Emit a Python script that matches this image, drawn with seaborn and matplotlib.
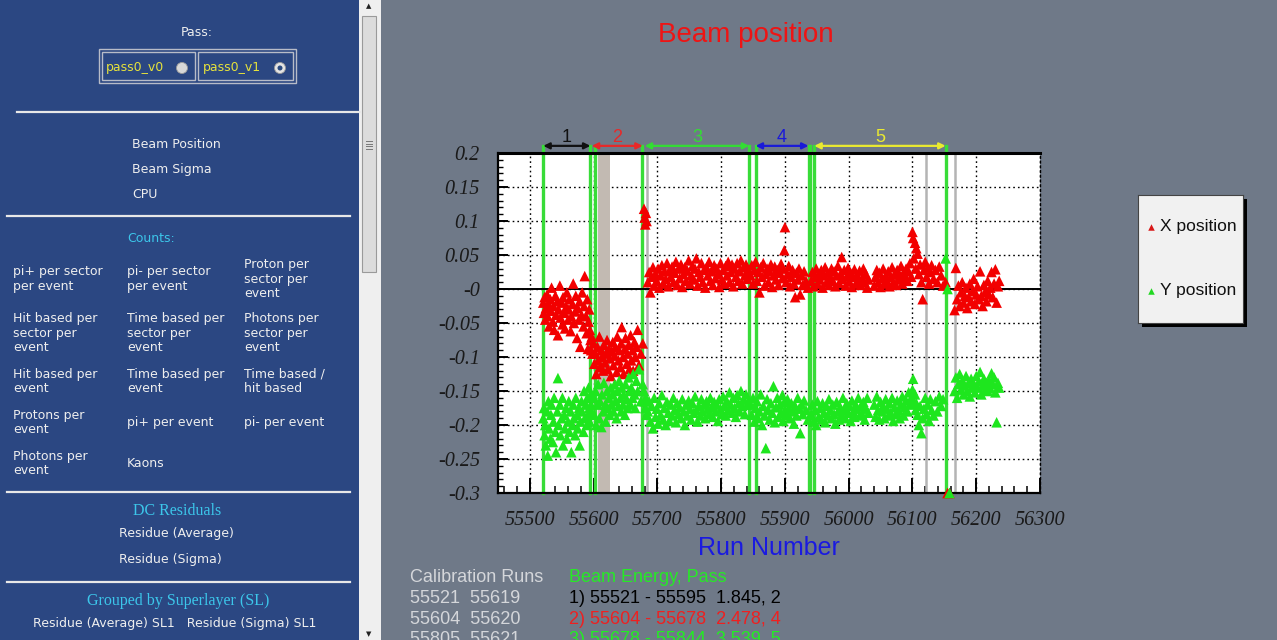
import matplotlib
matplotlib.use("Agg")
import matplotlib.pyplot as plt
import seaborn as sns
import pandas as pd
from matplotlib.patches import Rectangle, Ellipse
from matplotlib.lines import Line2D
from matplotlib.ticker import MultipleLocator
from matplotlib.font_manager import FontProperties, findfont

# ---------------- data: beam position per run ----------------
runs_a = [55521, 55522, 55523, 55524, 55525, 55527, 55528, 55529, 55530, 55532,
          55533, 55534, 55536, 55537, 55538, 55540, 55541, 55543, 55544, 55545,
          55547, 55548, 55550, 55551, 55552, 55554, 55555, 55557, 55558, 55560,
          55561, 55562, 55564, 55565, 55567, 55568, 55569, 55571, 55572, 55574,
          55575, 55577, 55578, 55579, 55581, 55582, 55584, 55585, 55586, 55588,
          55589, 55590, 55591, 55592, 55593, 55594, 55595, 55596, 55597, 55598]
xpos_a = [-0.020, -0.035, -0.012, -0.045, -0.028, -0.008, -0.040, -0.022, -0.055, -0.015,
          -0.032, 0.002, -0.048, -0.025, -0.060, -0.010, -0.038, -0.018, -0.068, -0.030,
          0.005, -0.042, -0.020, -0.052, -0.012, -0.035, -0.058, -0.026, -0.005, -0.045,
          -0.030, -0.015, -0.062, -0.040, -0.022, 0.008, -0.050, -0.033, -0.010, -0.072,
          -0.028, -0.045, -0.018, -0.085, -0.038, -0.005, -0.055, -0.025, 0.019, -0.040,
          -0.065, -0.015, -0.088, -0.048, -0.030, -0.060, -0.075, -0.090, -0.070, -0.095]
ypos_a = [-0.190, -0.175, -0.215, -0.200, -0.230, -0.180, -0.245, -0.165, -0.205, -0.220,
          -0.185, -0.170, -0.225, -0.195, -0.160, -0.210, -0.240, -0.180, -0.131, -0.200,
          -0.170, -0.215, -0.190, -0.160, -0.230, -0.185, -0.205, -0.175, -0.220, -0.195,
          -0.165, -0.210, -0.180, -0.240, -0.200, -0.170, -0.190, -0.215, -0.160, -0.185,
          -0.205, -0.175, -0.230, -0.195, -0.165, -0.180, -0.210, -0.150, -0.190, -0.170,
          -0.200, -0.160, -0.185, -0.145, -0.175, -0.195, -0.155, -0.170, -0.180, -0.160]

runs_b = [55600, 55601, 55603, 55604, 55606, 55607, 55609, 55610, 55612, 55613,
          55615, 55616, 55618, 55619, 55621, 55622, 55624, 55625, 55627, 55628,
          55630, 55631, 55633, 55634, 55636, 55637, 55639, 55640, 55642, 55643,
          55644, 55646, 55647, 55649, 55650, 55652, 55653, 55655, 55656, 55658,
          55659, 55661, 55662, 55664, 55665, 55667, 55669, 55671, 55674, 55677]
xpos_b = [-0.080, -0.110, -0.095, -0.125, -0.085, -0.105, -0.070, -0.115, -0.090, -0.100,
          -0.120, -0.082, -0.108, -0.095, -0.075, -0.118, -0.088, -0.102, -0.128, -0.092,
          -0.078, -0.112, -0.098, -0.085, -0.122, -0.070, -0.105, -0.090, -0.115, -0.080,
          -0.056, -0.100, -0.125, -0.088, -0.072, -0.110, -0.095, -0.082, -0.118, -0.068,
          -0.105, -0.090, -0.120, -0.078, -0.100, -0.085, -0.060, -0.112, -0.095, -0.080]
ypos_b = [-0.160, -0.185, -0.150, -0.200, -0.170, -0.140, -0.190, -0.165, -0.203, -0.155,
          -0.180, -0.138, -0.170, -0.195, -0.150, -0.175, -0.160, -0.185, -0.145, -0.170,
          -0.155, -0.180, -0.140, -0.165, -0.190, -0.150, -0.172, -0.135, -0.160, -0.180,
          -0.145, -0.170, -0.155, -0.185, -0.140, -0.162, -0.175, -0.130, -0.150, -0.170,
          -0.145, -0.160, -0.125, -0.155, -0.175, -0.135, -0.150, -0.118, -0.165, -0.140]

runs_j = [55679, 55680, 55681, 55682, 55683]
xpos_j = [0.118, 0.105, 0.095, 0.112, 0.100]
ypos_j = [-0.150, -0.165, -0.175, -0.160, -0.185]

runs_c = [55685, 55687, 55689, 55691, 55693, 55695, 55697, 55699, 55701, 55703,
          55705, 55707, 55709, 55711, 55713, 55715, 55717, 55719, 55721, 55723,
          55725, 55727, 55729, 55731, 55733, 55735, 55737, 55739, 55741, 55743,
          55745, 55747, 55749, 55751, 55753, 55755, 55757, 55759, 55761, 55763,
          55765, 55767, 55769, 55771, 55773, 55775, 55777, 55779, 55781, 55783,
          55785, 55787, 55789, 55791, 55793, 55795, 55797, 55799, 55801, 55803,
          55805, 55807, 55809, 55811, 55813, 55815, 55817, 55819, 55821, 55823,
          55825, 55827, 55829, 55831, 55833, 55835, 55837, 55839, 55841, 55843]
xpos_c = [0.010, 0.025, -0.005, 0.018, 0.032, 0.005, 0.022, 0.012, 0.030, 0.002,
          0.020, 0.035, 0.008, 0.026, 0.015, 0.038, 0.004, 0.028, 0.018, 0.033,
          0.010, 0.024, 0.040, 0.006, 0.030, 0.016, 0.036, 0.003, 0.022, 0.032,
          0.012, 0.027, 0.042, 0.008, 0.020, 0.034, 0.014, 0.030, 0.045, 0.005,
          0.025, 0.018, 0.038, 0.010, 0.028, 0.002, 0.032, 0.020, 0.040, 0.012,
          0.026, 0.006, 0.035, 0.016, 0.030, 0.022, 0.003, 0.038, 0.014, 0.028,
          0.008, 0.034, 0.020, 0.040, 0.010, 0.025, 0.036, 0.004, 0.030, 0.018,
          0.038, 0.012, 0.026, 0.042, 0.008, 0.032, 0.020, 0.036, 0.015, 0.028]
ypos_c = [-0.180, -0.165, -0.195, -0.172, -0.205, -0.160, -0.188, -0.176, -0.198, -0.168,
          -0.185, -0.156, -0.192, -0.175, -0.200, -0.166, -0.182, -0.194, -0.170, -0.186,
          -0.160, -0.178, -0.196, -0.168, -0.184, -0.174, -0.190, -0.162, -0.180, -0.200,
          -0.170, -0.186, -0.164, -0.176, -0.192, -0.168, -0.182, -0.158, -0.178, -0.195,
          -0.172, -0.186, -0.162, -0.180, -0.170, -0.190, -0.165, -0.176, -0.184, -0.160,
          -0.174, -0.188, -0.166, -0.180, -0.170, -0.194, -0.162, -0.176, -0.184, -0.158,
          -0.172, -0.186, -0.165, -0.178, -0.152, -0.170, -0.182, -0.160, -0.175, -0.188,
          -0.156, -0.168, -0.180, -0.150, -0.172, -0.162, -0.184, -0.155, -0.170, -0.164]

runs_d = [55846, 55848, 55850, 55852, 55854, 55856, 55858, 55860, 55862, 55864,
          55866, 55868, 55870, 55872, 55874, 55876, 55878, 55880, 55882, 55884,
          55886, 55888, 55890, 55892, 55894, 55896, 55897, 55899, 55900, 55902,
          55904, 55906, 55908, 55910, 55912, 55914, 55916, 55918, 55920, 55922,
          55924, 55926, 55928, 55930, 55933, 55936]
xpos_d = [0.020, 0.035, 0.008, 0.028, 0.040, 0.012, 0.025, -0.005, 0.032, 0.018,
          0.038, 0.005, 0.022, 0.030, 0.010, 0.026, 0.036, 0.003, 0.020, 0.033,
          0.014, 0.028, 0.006, 0.024, 0.037, 0.016, 0.030, 0.057, 0.091, 0.010,
          0.022, 0.034, 0.004, 0.018, 0.028, 0.008, -0.012, 0.024, 0.014, 0.030,
          -0.008, 0.020, 0.006, 0.026, 0.012, 0.002]
ypos_d = [-0.170, -0.185, -0.160, -0.195, -0.175, -0.165, -0.190, -0.180, -0.155, -0.200,
          -0.172, -0.186, -0.234, -0.162, -0.178, -0.192, -0.168, -0.182, -0.143, -0.196,
          -0.174, -0.160, -0.188, -0.170, -0.182, -0.156, -0.194, -0.166, -0.178, -0.186,
          -0.162, -0.175, -0.190, -0.168, -0.180, -0.198, -0.172, -0.186, -0.160, -0.176,
          -0.212, -0.170, -0.184, -0.164, -0.178, -0.192]

runs_e = [55941, 55943, 55945, 55947, 55949, 55951, 55953, 55955, 55957, 55959,
          55961, 55963, 55965, 55967, 55969, 55971, 55973, 55975, 55977, 55979,
          55981, 55983, 55985, 55987, 55989, 55991, 55993, 55995, 55997, 55999,
          56001, 56003, 56005, 56007, 56009, 56011, 56013, 56015, 56017, 56019,
          56021, 56023, 56025, 56027, 56029, 56031, 56040, 56042, 56044, 56046,
          56048, 56050, 56052, 56054, 56056, 56058, 56060, 56062, 56064, 56066,
          56068, 56070, 56072, 56074, 56076, 56078, 56080, 56082, 56084, 56086,
          56088, 56090, 56092, 56094, 56096, 56098, 56100, 56101, 56102, 56104,
          56105, 56106, 56108, 56110, 56112, 56114, 56116, 56118, 56120, 56122,
          56124, 56126, 56128, 56130, 56133, 56136, 56139, 56142, 56145, 56148]
xpos_e = [0.012, 0.025, 0.004, 0.018, 0.030, 0.008, 0.022, 0.014, 0.028, 0.002,
          0.020, 0.032, 0.010, 0.024, 0.006, 0.017, 0.030, 0.012, 0.026, 0.004,
          0.020, 0.034, 0.009, 0.022, 0.047, 0.015, 0.028, 0.005, 0.019, 0.031,
          0.011, 0.024, 0.003, 0.018, 0.029, 0.008, 0.021, 0.013, 0.027, 0.006,
          0.016, 0.030, 0.010, 0.022, 0.002, 0.014, 0.005, 0.018, 0.028, 0.010,
          0.024, 0.003, 0.016, 0.030, 0.008, 0.020, 0.012, 0.026, 0.004, 0.018,
          0.032, 0.010, 0.022, 0.006, 0.028, 0.014, 0.020, 0.034, 0.008, 0.024,
          0.016, 0.030, 0.012, 0.026, 0.038, 0.018, 0.084, 0.075, 0.045, 0.068,
          0.030, 0.060, 0.052, 0.022, 0.036, 0.010, -0.015, 0.028, 0.040, 0.018,
          0.032, 0.008, 0.025, 0.035, 0.015, 0.028, 0.010, 0.033, 0.020, 0.005]
ypos_e = [-0.185, -0.170, -0.195, -0.178, -0.200, -0.165, -0.188, -0.175, -0.192, -0.168,
          -0.182, -0.196, -0.172, -0.186, -0.162, -0.178, -0.190, -0.170, -0.184, -0.198,
          -0.166, -0.180, -0.192, -0.174, -0.186, -0.160, -0.178, -0.190, -0.168, -0.182,
          -0.172, -0.194, -0.164, -0.180, -0.188, -0.170, -0.176, -0.160, -0.186, -0.172,
          -0.184, -0.166, -0.192, -0.176, -0.160, -0.182, -0.170, -0.188, -0.158, -0.178,
          -0.192, -0.166, -0.180, -0.172, -0.190, -0.162, -0.176, -0.186, -0.168, -0.182,
          -0.160, -0.194, -0.174, -0.184, -0.164, -0.178, -0.190, -0.170, -0.158, -0.186,
          -0.174, -0.164, -0.180, -0.152, -0.170, -0.160, -0.148, -0.132, -0.165, -0.155,
          -0.178, -0.168, -0.185, -0.200, -0.172, -0.212, -0.190, -0.176, -0.160, -0.184,
          -0.170, -0.194, -0.162, -0.178, -0.186, -0.165, -0.180, -0.158, -0.172, -0.162]

runs_k = [56152, 56155, 56158]
xpos_k = [0.010, -0.300, -0.300]
ypos_k = [0.045, 0.000, -0.300]

runs_f = [56166, 56168, 56170, 56172, 56174, 56176, 56178, 56180, 56182, 56184,
          56186, 56188, 56190, 56192, 56194, 56196, 56198, 56200, 56202, 56204,
          56206, 56208, 56210, 56212, 56214, 56216, 56218, 56220, 56222, 56224,
          56226, 56228, 56230, 56232, 56234, 56236]
xpos_f = [-0.031, 0.031, -0.015, 0.005, -0.025, -0.005, 0.010, -0.020, -0.010, 0.002,
          -0.028, -0.012, 0.008, -0.018, -0.003, 0.015, -0.022, -0.008, 0.004, -0.015,
          0.026, -0.010, -0.025, 0.006, -0.004, -0.018, 0.012, -0.008, 0.002, 0.025,
          -0.012, 0.008, 0.029, -0.020, 0.004, 0.012]
ypos_f = [-0.150, -0.130, -0.160, -0.140, -0.125, -0.148, -0.135, -0.155, -0.142, -0.128,
          -0.150, -0.138, -0.158, -0.132, -0.145, -0.140, -0.152, -0.128, -0.145, -0.136,
          -0.122, -0.155, -0.142, -0.132, -0.148, -0.138, -0.150, -0.134, -0.146, -0.124,
          -0.140, -0.130, -0.152, -0.196, -0.138, -0.145]

# run-range markers
boundary_runs = [55521, 55595, 55602, 55676, 55844, 55854, 55937, 55940, 55946, 56152]
excluded_runs = [55684, 56122, 56167]
excluded_band = (55607, 55626)
section_names = ["1", "2", "3", "4", "5"]
section_spans = [(55521, 55595), (55597, 55677), (55680, 55844), (55854, 55937), (55946, 56152)]
section_colors = ["#111111", "#e82828", "#33dd33", "#1a1ad8", "#eaea30"]

xtick_values = [55500, 55600, 55700, 55800, 55900, 56000, 56100, 56200, 56300]
ytick_values = [-0.3, -0.25, -0.2, -0.15, -0.1, -0.05, 0.0, 0.05, 0.1, 0.15, 0.2]
ytick_labels = ["-0.3", "-0.25", "-0.2", "-0.15", "-0.1", "-0.05", "-0", "0.05", "0.1", "0.15", "0.2"]

calib_header = "Calibration Runs"
energy_header = "Beam Energy, Pass"
calib_rows = ["55521  55619", "55604  55620", "55805  55621"]
energy_rows = ["1) 55521 - 55595  1.845, 2", "2) 55604 - 55678  2.478, 4", "3) 55678 - 55844  3.539, 5"]
energy_colors = ["#000000", "#ee2020", "#22ee22"]

# ---------------- figure ----------------
W, H = 1277, 640
BG = "#6f7988"
PANEL = "#2b4782"
fig = plt.figure(figsize=(W / 100, H / 100), dpi=100, facecolor=BG)


def fx(x):
    return x / W


def fy(y):
    return 1 - y / H


def frect(x0, y0, x1, y1, **kw):
    fig.add_artist(Rectangle((fx(x0), fy(y1)), (x1 - x0) / W, (y1 - y0) / H,
                             transform=fig.transFigure, **kw))


def fline(x0, y0, x1, y1, **kw):
    fig.add_artist(Line2D([fx(x0), fx(x1)], [fy(y0), fy(y1)], transform=fig.transFigure, **kw))


# italic serif for the axis numbers (Times-like when available)
tick_font = FontProperties(family="Liberation Serif", style="italic", size=14.5)
if "italic" not in findfont(tick_font).lower():
    tick_font = FontProperties(family="DejaVu Serif", style="italic", size=12)

# ---- navigation panel ----
frect(0, 0, 359, 640, facecolor=PANEL, edgecolor="none", zorder=-2)
frect(359, 0, 381, 640, facecolor="#efefef", edgecolor="none", zorder=-2)
frect(362, 16, 376, 272, facecolor="#dcdcdc", edgecolor="#9a9a9a", lw=0.8, zorder=-1)
for gy in (141, 143.5, 146, 148.5):
    fline(365.5, gy, 371.5, gy, color="#777777", lw=0.7)
fig.text(fx(368.5), fy(6), "▲", ha="center", va="center", fontsize=5, color="#222222")
fig.text(fx(368.5), fy(634), "▼", ha="center", va="center", fontsize=5, color="#222222")

TXT = "#eeeeee"
CYAN = "#3cc6ea"
SANS = "DejaVu Sans"
fig.text(fx(197), fy(33), "Pass:", ha="center", va="center", fontsize=9, color=TXT, family=SANS)
frect(99, 49, 296, 83, facecolor="none", edgecolor="#b8bcc8", lw=1.0)
frect(102, 52, 195, 80, facecolor="none", edgecolor="#b8bcc8", lw=1.0)
frect(198, 52, 293, 80, facecolor="none", edgecolor="#b8bcc8", lw=1.0)
fig.text(fx(106), fy(68), "pass0_v0", ha="left", va="center", fontsize=9, color="#e6e23c", family=SANS)
fig.text(fx(203), fy(68), "pass0_v1", ha="left", va="center", fontsize=9, color="#e6e23c", family=SANS)
fig.add_artist(Ellipse((fx(182), fy(68)), 11 / W, 11 / H, transform=fig.transFigure,
                       facecolor="#d8d8d8", edgecolor="#9a9a9a", lw=0.6))
fig.add_artist(Ellipse((fx(280), fy(68)), 11 / W, 11 / H, transform=fig.transFigure,
                       facecolor="#e4e4e4", edgecolor="#9a9a9a", lw=0.6))
fig.add_artist(Ellipse((fx(280), fy(68)), 5 / W, 5 / H, transform=fig.transFigure,
                       facecolor="#2a4a80", edgecolor="none"))

fline(17, 112, 360, 112, color="#e8e8e8", lw=1.6)
for ty, label in zip((145, 170, 194), ("Beam Position", "Beam Sigma", "CPU")):
    fig.text(fx(132), fy(ty), label, ha="left", va="center", fontsize=9, color=TXT, family=SANS)
fline(7, 216, 350, 216, color="#e8e8e8", lw=1.6)
fig.text(fx(127), fy(238), "Counts:", ha="left", va="center", fontsize=9, color=CYAN, family=SANS)

count_cols = [13, 127, 244]
count_rows = [
    (279, ["pi+ per sector\nper event", "pi- per sector\nper event", "Proton per\nsector per\nevent"]),
    (333, ["Hit based per\nsector per\nevent", "Time based per\nsector per\nevent", "Photons per\nsector per\nevent"]),
    (381.5, ["Hit based per\nevent", "Time based per\nevent", "Time based /\nhit based"]),
    (422.5, ["Protons per\nevent", "pi+ per event", "pi- per event"]),
    (463.5, ["Photons per\nevent", "Kaons"]),
]
for ry, items in count_rows:
    for cx, label in zip(count_cols, items):
        fig.text(fx(cx), fy(ry), label, ha="left", va="center", fontsize=9, color=TXT,
                 family=SANS, linespacing=1.12)

fline(7, 492, 350, 492, color="#e8e8e8", lw=1.6)
fig.text(fx(177), fy(511), "DC Residuals", ha="center", va="center", fontsize=11.5,
         color=CYAN, family="Liberation Serif")
fig.text(fx(119), fy(534), "Residue (Average)", ha="left", va="center", fontsize=9, color=TXT, family=SANS)
fig.text(fx(119), fy(560), "Residue (Sigma)", ha="left", va="center", fontsize=9, color=TXT, family=SANS)
fline(7, 582, 350, 582, color="#e8e8e8", lw=1.6)
fig.text(fx(178), fy(601), "Grouped by Superlayer (SL)", ha="center", va="center", fontsize=11.5,
         color=CYAN, family="Liberation Serif")
fig.text(fx(33), fy(623), "Residue (Average) SL1   Residue (Sigma) SL1", ha="left", va="center",
         fontsize=9, color=TXT, family=SANS)

# ---- main chart ----
ax = fig.add_axes([fx(498), fy(493), 542 / W, 340 / H])
ax.set_facecolor("white")

df = pd.DataFrame({
    "run": (runs_a + runs_b + runs_j + runs_c + runs_d + runs_e + runs_k + runs_f) * 2,
    "position": (xpos_a + xpos_b + xpos_j + xpos_c + xpos_d + xpos_e + xpos_k + xpos_f)
                + (ypos_a + ypos_b + ypos_j + ypos_c + ypos_d + ypos_e + ypos_k + ypos_f),
})
n_runs = len(df) // 2
df["series"] = ["X position"] * n_runs + ["Y position"] * n_runs

ax.axvspan(*excluded_band, color="#c2bab2", zorder=1.5, lw=0)
for r in excluded_runs:
    ax.axvline(r, color="#b4b4b4", lw=1.8, zorder=1.8)
for r in boundary_runs:
    ax.axvline(r, ymin=0, ymax=1.02, color="#38dc38", lw=2.4, zorder=2, clip_on=False)
ax.axhline(0, color="black", lw=1.4, zorder=2.2)

sns.scatterplot(data=df, x="run", y="position", hue="series",
                palette={"X position": "#f20000", "Y position": "#1ee61e"},
                marker="^", s=58, linewidth=0, legend=False, ax=ax, zorder=3, clip_on=False)

ax.set_xlim(55450, 56300)
ax.set_ylim(-0.3, 0.2)
ax.set_xticks(xtick_values)
ax.set_xticklabels([str(v) for v in xtick_values], fontproperties=tick_font)
ax.set_yticks(ytick_values)
ax.set_yticklabels(ytick_labels, fontproperties=tick_font)
ax.xaxis.set_minor_locator(MultipleLocator(20))
ax.yaxis.set_minor_locator(MultipleLocator(0.01))
ax.set_xlabel("")
ax.set_ylabel("")
ax.grid(True, which="major", color="black", ls=(0, (1.2, 2.2)), lw=1.0)
ax.set_axisbelow(True)
ax.tick_params(axis="x", which="major", direction="in", length=11, width=1.4, pad=13,
               top=False, colors="black", labelcolor="#1a1a1a")
ax.tick_params(axis="x", which="minor", direction="in", length=5, width=1.1, top=False)
ax.tick_params(axis="y", which="major", direction="in", length=7, width=1.4, pad=13,
               right=False, labelcolor="#1a1a1a")
ax.tick_params(axis="y", which="minor", direction="in", length=3.5, width=1.0, right=False)
for side in ("left", "bottom"):
    ax.spines[side].set_linewidth(1.6)
    ax.spines[side].set_color("black")
ax.spines["top"].set_linewidth(2.2)
ax.spines["top"].set_color("black")
ax.spines["right"].set_linestyle((0, (1.2, 2.2)))
ax.spines["right"].set_linewidth(1.0)

# run-range arrows above the frame
for name, (r0, r1), col in zip(section_names, section_spans, section_colors):
    ax.annotate("", xy=(r1, 0.2105), xytext=(r0, 0.2105), xycoords="data",
                arrowprops=dict(arrowstyle="<|-|>", color=col, lw=1.6, mutation_scale=9,
                                shrinkA=0, shrinkB=0),
                annotation_clip=False, zorder=4)
    ax.text((r0 + r1) / 2, 0.2235, name, ha="center", va="center", fontsize=13,
            color=col, family="Liberation Sans", clip_on=False)

fig.text(fx(746), fy(35), "Beam position", ha="center", va="center", fontsize=20,
         color="#ee1414", family="Liberation Sans")
fig.text(fx(769), fy(548), "Run Number", ha="center", va="center", fontsize=18,
         color="#1a1ae0", family="Liberation Sans")

# ---- legend box ----
sh = fig.add_axes([fx(1142), fy(327), 105 / W, 128 / H], facecolor="black")
sh.set_xticks([]); sh.set_yticks([])
for s in sh.spines.values():
    s.set_visible(False)
lax = fig.add_axes([fx(1138), fy(323), 105 / W, 128 / H], facecolor="#f1f1f1")
lax.set_xlim(0, 105); lax.set_ylim(128, 0)
lax.set_xticks([]); lax.set_yticks([])
for s in lax.spines.values():
    s.set_linewidth(0.8); s.set_color("#444444")
for ly, label, col in ((32, "X position", "#d81818"), (96, "Y position", "#22d822")):
    lax.scatter([13], [ly], marker="^", s=22, color=col, linewidths=0)
    lax.text(22, ly, label, ha="left", va="center", fontsize=12.5, color="#111111",
             family="Liberation Sans")

# ---- calibration table ----
fig.text(fx(410), fy(578), calib_header, ha="left", va="center", fontsize=13,
         color="#d4d6da", family="Liberation Sans")
fig.text(fx(569), fy(578), energy_header, ha="left", va="center", fontsize=13,
         color="#26ea26", family="Liberation Sans")
for i, (c_txt, e_txt, e_col) in enumerate(zip(calib_rows, energy_rows, energy_colors)):
    y = 598.5 + 20.5 * i
    fig.text(fx(410), fy(y), c_txt, ha="left", va="center", fontsize=13,
             color="#d4d6da", family="Liberation Sans")
    fig.text(fx(569), fy(y), e_txt, ha="left", va="center", fontsize=13,
             color=e_col, family="Liberation Sans")

fig.savefig("out.png", dpi=100, facecolor=BG)
